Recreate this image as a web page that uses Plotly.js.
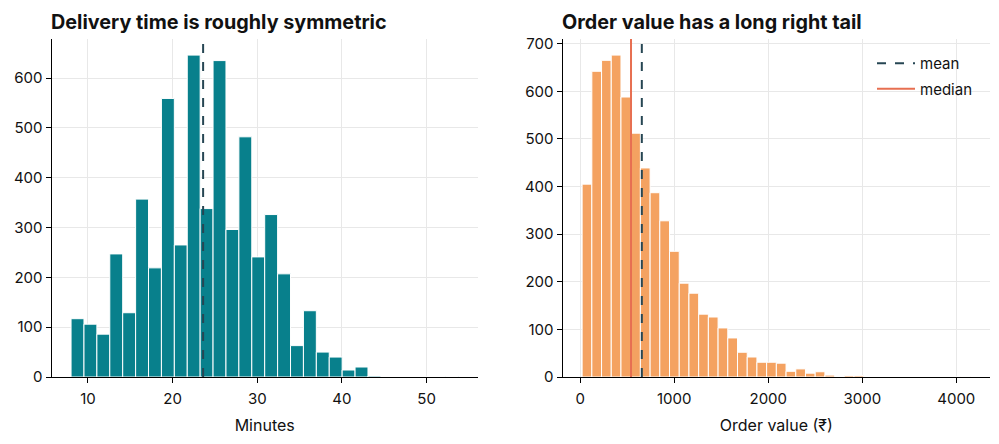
<!DOCTYPE html>
<html>
<head>
<meta charset="utf-8">
<script src="https://cdn.plot.ly/plotly-3.0.1.min.js"></script>
<style>
  html, body { margin: 0; padding: 0; background: #ffffff; }
  #chart { width: 999px; height: 444px; }
</style>
</head>
<body>
<div id="chart"></div>
<script>
// Delivery time histogram (minutes): 30 equal bins
const deliveryBinStart = 8.0;
const deliveryBinWidth = 1.525;
const deliveryCounts = [117, 106, 86, 247, 129, 357, 219, 559, 265, 646,
                        338, 635, 296, 482, 241, 326, 207, 63, 133, 50,
                        40, 14, 20, 2, 0, 0, 0, 0, 0, 1];
const deliveryMean = 23.6;

// Order value histogram (rupees): 40 equal bins
const orderBinStart = 20;
const orderBinWidth = 103.3;
const orderCounts = [405, 642, 665, 676, 588, 512, 439, 387, 328, 264,
                     197, 176, 132, 126, 103, 82, 52, 42, 31, 31,
                     29, 12, 17, 8, 11, 4, 1, 3, 3, 0,
                     0, 0, 0, 0, 0, 0, 0, 0, 0, 1];
const orderMean = 655;
const orderMedian = 540;

const titles = ["Delivery time is roughly symmetric", "Order value has a long right tail"];
const xTitles = ["Minutes", "Order value (₹)"];

const TEAL = "#08808c";
const SAND = "#f4a261";
const SLATE = "#264653";
const CORAL = "#e76f51";
const FONT = "Inter, 'Noto Sans', sans-serif";

function centers(start, width, n) {
  const out = [];
  for (let i = 0; i < n; i++) out.push(start + width * (i + 0.5));
  return out;
}

const dMax = Math.max(...deliveryCounts);
const oMax = Math.max(...orderCounts);
const dTop = dMax * 1.05;
const oTop = oMax * 1.05;

// x limits padded 5% on each side of the binned data range
function padRange(start, width, n) {
  const end = start + width * n;
  const pad = 0.05 * (end - start);
  return [start - pad, end + pad];
}

const traces = [
  {
    type: "bar",
    x: centers(deliveryBinStart, deliveryBinWidth, deliveryCounts.length),
    y: deliveryCounts,
    width: deliveryBinWidth,
    marker: { color: TEAL, line: { color: "#ffffff", width: 1 } },
    xaxis: "x", yaxis: "y",
    showlegend: false, hoverinfo: "x+y"
  },
  {
    type: "scatter", mode: "lines",
    x: [deliveryMean, deliveryMean], y: [0, dTop],
    line: { color: SLATE, width: 2, dash: "dash" },
    xaxis: "x", yaxis: "y", showlegend: false
  },
  {
    type: "bar",
    x: centers(orderBinStart, orderBinWidth, orderCounts.length),
    y: orderCounts,
    width: orderBinWidth,
    marker: { color: SAND, line: { color: "#ffffff", width: 1 } },
    xaxis: "x2", yaxis: "y2",
    showlegend: false, hoverinfo: "x+y"
  },
  {
    type: "scatter", mode: "lines", name: "mean", legendgroup: "a",
    x: [orderMean, orderMean], y: [0, oTop],
    line: { color: SLATE, width: 2, dash: "dash" },
    xaxis: "x2", yaxis: "y2"
  },
  {
    type: "scatter", mode: "lines", name: "median", legendgroup: "b",
    x: [orderMedian, orderMedian], y: [0, oTop],
    line: { color: CORAL, width: 2 },
    xaxis: "x2", yaxis: "y2"
  }
];

const axisCommon = {
  showline: true, linecolor: "#000000", linewidth: 1.2,
  ticks: "outside", ticklen: 5, tickwidth: 1, tickcolor: "#000000",
  showgrid: true, gridcolor: "#e8e8e8", gridwidth: 1,
  zeroline: false,
  tickfont: { family: FONT, size: 15, color: "#111111" }
};

const yDom = [67 / 444, 405 / 444];
const leftDom = [51.7 / 999, 477.7 / 999];
const rightDom = [562.7 / 999, 990 / 999];
const titleFont = { family: FONT, size: 16, color: "#111111" };

const layout = {
  width: 999, height: 444,
  margin: { l: 0, r: 0, t: 0, b: 0 },
  paper_bgcolor: "#ffffff", plot_bgcolor: "#ffffff",
  font: { family: FONT, color: "#111111" },
  bargap: 0,
  xaxis: Object.assign({}, axisCommon, {
    domain: leftDom, anchor: "y",
    range: padRange(deliveryBinStart, deliveryBinWidth, deliveryCounts.length),
    dtick: 10, tick0: 0, ticklabelstandoff: 3,
    title: { text: xTitles[0], font: titleFont, standoff: 12 }
  }),
  yaxis: Object.assign({}, axisCommon, {
    domain: yDom, anchor: "x",
    range: [0, dTop], dtick: 100, tick0: 0
  }),
  xaxis2: Object.assign({}, axisCommon, {
    domain: rightDom, anchor: "y2",
    range: padRange(orderBinStart, orderBinWidth, orderCounts.length),
    dtick: 1000, tick0: 0, ticklabelstandoff: 3,
    title: { text: xTitles[1], font: titleFont, standoff: 12 }
  }),
  yaxis2: Object.assign({}, axisCommon, {
    domain: yDom, anchor: "x2",
    range: [0, oTop], dtick: 100, tick0: 0
  }),
  showlegend: true,
  legend: {
    x: 872 / 999, xanchor: "left",
    y: (444 - 47) / 444, yanchor: "top",
    bgcolor: "rgba(255,255,255,0)", borderwidth: 0,
    font: { family: FONT, size: 15, color: "#111111" },
    itemwidth: 38,
    traceorder: "grouped", tracegroupgap: 3
  },
  annotations: [
    {
      text: titles[0], xref: "paper", yref: "paper",
      x: (leftDom[0] * 999 - 3) / 999, xanchor: "left", y: (444 - 22) / 444, yanchor: "middle",
      showarrow: false,
      font: { family: FONT, size: 19.8, color: "#111111", weight: "bold" }
    },
    {
      text: titles[1], xref: "paper", yref: "paper",
      x: (rightDom[0] * 999 - 3) / 999, xanchor: "left", y: (444 - 22) / 444, yanchor: "middle",
      showarrow: false,
      font: { family: FONT, size: 19.8, color: "#111111", weight: "bold" }
    }
  ]
};

Plotly.newPlot("chart", traces, layout, { displayModeBar: false, staticPlot: true });
</script>
</body>
</html>
